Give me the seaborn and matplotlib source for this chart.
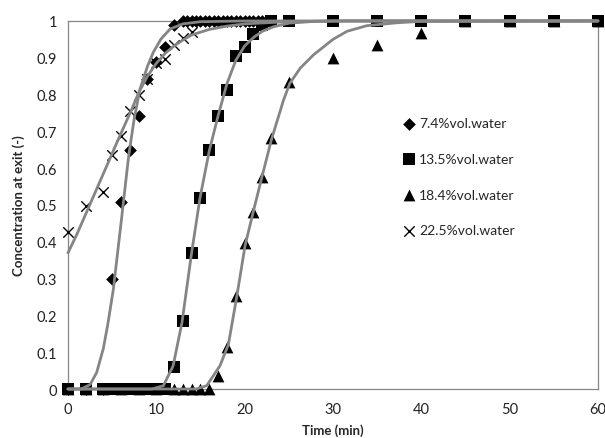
import matplotlib
matplotlib.use("Agg")
import matplotlib.pyplot as plt
from matplotlib.ticker import MultipleLocator, FuncFormatter
import seaborn as sns
import pandas as pd
import numpy as np

# measured points (time in min, concentration at exit)
t_74 = [0, 2, 4, 5, 6, 7, 8, 9, 10, 11, 12, 13, 13.5, 14, 14.5, 15, 15.5, 16, 16.5, 17,
        17.5, 18, 18.5, 19, 19.5, 20, 20.5, 21, 21.5, 22, 22.5, 23]
c_74 = [0, 0, 0, 0.30, 0.507, 0.65, 0.742, 0.842, 0.888, 0.928, 0.988, 1.0, 1.0, 1.0, 1.0, 1.0, 1.0,
        1.0, 1.0, 1.0, 1.0, 1.0, 1.0, 1.0, 1.0, 1.0, 1.0, 1.0, 1.0, 1.0, 1.0, 1.0]

t_135 = [0, 2, 4, 4.5, 5, 5.5, 6, 6.5, 7, 7.5, 8, 8.5, 9, 9.5, 10, 10.5, 11, 12, 13, 14, 15, 16,
         17, 18, 19, 20, 21, 22, 23, 25, 30, 35, 40, 45, 50, 55, 60]
c_135 = [0, 0, 0, 0, 0, 0, 0, 0, 0, 0, 0, 0, 0, 0, 0, 0, 0, 0.06, 0.186, 0.37, 0.52, 0.65,
         0.743, 0.813, 0.906, 0.93, 0.965, 0.99, 1.0, 1.0, 1.0, 1.0, 1.0, 1.0, 1.0, 1.0, 1.0]

t_184 = [0, 2, 4, 6, 8, 10, 12, 13, 14, 15, 16, 17, 18, 19, 20, 21, 22, 23, 25, 30, 35, 40,
         45, 50, 55, 60]
c_184 = [0, 0, 0, 0, 0, 0, 0, 0, 0, 0, 0, 0.036, 0.113, 0.254, 0.396, 0.48, 0.576, 0.683,
         0.835, 0.898, 0.935, 0.967, 1.0, 1.0, 1.0, 1.0]

t_225 = [0, 2, 4, 5, 6, 7, 8, 9, 10, 11, 12, 13, 14]
c_225 = [0.427, 0.497, 0.536, 0.635, 0.687, 0.754, 0.80, 0.842, 0.885, 0.897, 0.935, 0.955, 0.97]

# fitted model curves
ft_74 = [0, 1.5, 2.5, 3.25, 4.0, 4.5, 5.13, 6.0, 6.83, 7.0, 7.5, 8.15, 9.0, 9.66, 10.5, 11.55,
         13, 15, 20, 60]
fc_74 = [0, 0, 0.012, 0.045, 0.11, 0.175, 0.27, 0.45, 0.625, 0.655, 0.735, 0.815, 0.877, 0.915,
         0.95, 0.978, 0.992, 0.998, 1.0, 1.0]

ft_135 = [0, 9.5, 10.8, 11.9, 12.9, 14.0, 14.95, 16.0, 17.0, 18.0, 19.0, 20.0, 21.0, 22.0,
          23.25, 25, 28, 32, 60]
fc_135 = [0, 0, 0.009, 0.063, 0.18, 0.371, 0.52, 0.648, 0.743, 0.83, 0.893, 0.932, 0.955,
          0.972, 0.984, 0.994, 0.999, 1.0, 1.0]

ft_184 = [0, 14.5, 15.7, 17.2, 18.15, 19.1, 20.05, 21.06, 22.05, 23.06, 24.4, 25.1, 26.3, 27.8,
          30.0, 31.6, 33.8, 37.2, 40, 60]
fc_184 = [0, 0, 0.009, 0.063, 0.12, 0.25, 0.39, 0.49, 0.585, 0.68, 0.785, 0.83, 0.872, 0.908,
          0.95, 0.972, 0.987, 0.995, 0.999, 1.0]

ft_225 = [0, 1, 2, 3, 4, 5, 6, 7, 8, 9, 10, 11, 12, 13, 14, 16, 18, 20, 24, 30, 60]
fc_225 = [0.37, 0.42, 0.475, 0.53, 0.585, 0.64, 0.695, 0.748, 0.805, 0.85, 0.885, 0.912, 0.932,
          0.948, 0.962, 0.977, 0.986, 0.992, 0.997, 1.0, 1.0]

labels = ["7.4%vol.water", "13.5%vol.water", "18.4%vol.water", "22.5%vol.water"]

sns.set_style("white")
plt.rcParams["font.family"] = ["Lato", "DejaVu Sans"]

fig = plt.figure(figsize=(6.05, 4.39), dpi=100)
ax = fig.add_axes([0.1124, 0.1116, 0.8760, 0.8384])

grey = "#868686"

sns.scatterplot(x=t_74, y=c_74, marker="D", s=42, color="black", edgecolor="black",
                linewidth=0, clip_on=False, label=labels[0], ax=ax, zorder=3)
sns.scatterplot(x=t_135, y=c_135, marker="s", s=72, color="black", edgecolor="black",
                linewidth=0, clip_on=False, label=labels[1], ax=ax, zorder=3)
sns.scatterplot(x=t_184, y=c_184, marker="^", s=72, color="black", edgecolor="black",
                linewidth=0, clip_on=False, label=labels[2], ax=ax, zorder=3)
sns.scatterplot(x=t_225, y=c_225, marker="x", s=56, color="black", linewidth=1.0,
                clip_on=False, label=labels[3], ax=ax, zorder=3)

for ft, fc in [(ft_74, fc_74), (ft_135, fc_135), (ft_184, fc_184), (ft_225, fc_225)]:
    sns.lineplot(x=ft, y=fc, color="#858585", linewidth=2.0, sort=False, estimator=None,
                 ax=ax, zorder=4, clip_on=False)

ax.set_xlim(0, 60)
ax.set_ylim(0, 1)
ax.xaxis.set_major_locator(MultipleLocator(10))
ax.xaxis.set_minor_locator(MultipleLocator(2))
ax.yaxis.set_major_locator(MultipleLocator(0.1))
ax.yaxis.set_minor_locator(MultipleLocator(0.02))
ax.yaxis.set_major_formatter(FuncFormatter(lambda v, p: f"{v:g}"))
ax.tick_params(which="both", direction="out", length=4.5, width=0.8, color=grey,
               labelsize=10.5, labelcolor="#222222")
ax.tick_params(axis="x", pad=5)
for sp in ax.spines.values():
    sp.set_color(grey)
    sp.set_linewidth(0.9)

ax.set_xlabel("Time (min)", fontsize=9.5, fontweight="bold", labelpad=5)
ax.set_ylabel("Concentration at exit (-)", fontsize=9.5, fontweight="bold", labelpad=8)

ax.legend(loc="upper left", bbox_to_anchor=(0.615, 0.757), frameon=False, fontsize=10,
          labelspacing=1.7, handletextpad=0.1, handlelength=1.2, borderpad=0)

fig.savefig("out.png", dpi=100)
